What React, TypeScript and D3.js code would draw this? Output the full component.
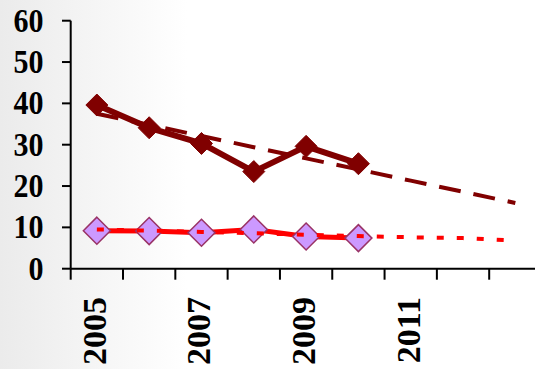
import React from "react";
import * as d3 from "d3";

const years = [2005, 2006, 2007, 2008, 2009, 2010, 2011, 2012, 2013];
const labeledYears = [2005, 2007, 2009, 2011];
const yTicks = [0, 10, 20, 30, 40, 50, 60];

const darkYears = [2005, 2006, 2007, 2008, 2009, 2010];
const darkValues = [39.6, 34.1, 30.3, 23.5, 29.6, 25.4];
const darkTrend = [37.5, 34.8, 32.1, 29.4, 26.7, 24.0, 21.3, 18.6, 15.9];

const lightYears = [2005, 2006, 2007, 2008, 2009, 2010];
const lightValues = [9.2, 9.1, 8.7, 9.5, 7.8, 7.4];
const lightTrend = [9.5, 9.2, 8.9, 8.6, 8.2, 7.9, 7.6, 7.4, 6.8];

const W = 535;
const H = 369;
const FONT = "'Liberation Serif', 'Times New Roman', serif";

export default function App() {
  const x = d3.scaleBand<number>().domain(years).range([70.7, 541.5]).padding(0);
  const y = d3.scaleLinear().domain([0, 60]).range([268.7, 20.7]);
  const cx = (yr: number) => (x(yr) as number) + x.bandwidth() / 2;

  const line = d3
    .line<[number, number]>()
    .x((d) => cx(d[0]))
    .y((d) => y(d[1]));

  const darkPts = darkYears.map((yr, i) => [yr, darkValues[i]] as [number, number]);
  const lightPts = lightYears.map((yr, i) => [yr, lightValues[i]] as [number, number]);
  const darkTrendPts = years.map((yr, i) => [yr, darkTrend[i]] as [number, number]);
  const lightTrendPts = years.map((yr, i) => [yr, lightTrend[i]] as [number, number]);

  const diamond = (px: number, py: number, r: number) =>
    `M${px},${py - r}L${px + r},${py}L${px},${py + r}L${px - r},${py}Z`;

  const tickXs = years.map((yr) => x(yr) as number).concat([(x(2013) as number) + x.bandwidth()]);
  const y0 = y(0);

  return (
    <svg
      width={W}
      height={H}
      style={{ position: "absolute", left: 0, top: 0, display: "block" }}
    >
      <defs>
        <linearGradient id="bg" x1="0" y1="0" x2="1" y2="0">
          <stop offset="0" stopColor="#ebebeb" />
          <stop offset="0.35" stopColor="#ffffff" />
          <stop offset="1" stopColor="#ffffff" />
        </linearGradient>
        <clipPath id="clip">
          <rect x={0} y={0} width={W} height={H} />
        </clipPath>
      </defs>
      <rect x={0} y={0} width={W} height={H} fill="url(#bg)" />

      <g clipPath="url(#clip)">
        {/* y axis */}
        <line x1={70.7} x2={70.7} y1={y(60)} y2={y0} stroke="#000" strokeWidth={2} />
        {yTicks.map((t) => (
          <g key={t}>
            <line x1={62} x2={70.7} y1={y(t)} y2={y(t)} stroke="#000" strokeWidth={2} />
            <text
              transform={`translate(43.5,${y(t) + 3}) scale(1,1.14)`}
              textAnchor="end"
              dominantBaseline="middle"
              fontFamily={FONT}
              fontWeight="bold"
              fontSize={30}
              fill="#000"
            >
              {t}
            </text>
          </g>
        ))}

        {/* x axis */}
        <line x1={70.7} x2={W + 10} y1={y0} y2={y0} stroke="#000" strokeWidth={2} />
        {tickXs.map((tx, i) => (
          <line key={i} x1={tx} x2={tx} y1={y0} y2={y0 + 11} stroke="#000" strokeWidth={2} />
        ))}
        {labeledYears.map((yr) => (
          <text
            key={yr}
            transform={`translate(${cx(yr) + 1},297) rotate(-90)`}
            textAnchor="end"
            dominantBaseline="middle"
            fontFamily={FONT}
            fontWeight="bold"
            fontSize={34}
            fill="#000"
          >
            {yr}
          </text>
        ))}

        {/* series lines */}
        <path d={line(darkPts) as string} fill="none" stroke="#800000" strokeWidth={6} strokeLinejoin="round" />
        <path d={line(lightPts) as string} fill="none" stroke="#ff0000" strokeWidth={5} strokeLinejoin="round" />

        {/* markers */}
        {darkPts.map((p, i) => (
          <path key={"d" + i} d={diamond(cx(p[0]), y(p[1]), 11)} fill="#800000" stroke="#800000" strokeWidth={1} />
        ))}
        {lightPts.map((p, i) => (
          <path key={"l" + i} d={diamond(cx(p[0]), y(p[1]), 13.5)} fill="#cc99ff" stroke="#993366" strokeWidth={1.5} />
        ))}

        {/* trend lines */}
        <path
          d={line(darkTrendPts) as string}
          fill="none"
          stroke="#800000"
          strokeWidth={4}
          strokeDasharray="22,13"
        />
        <path
          d={line(lightTrendPts) as string}
          fill="none"
          stroke="#ff0000"
          strokeWidth={4}
          strokeDasharray="7,13"
        />
      </g>
    </svg>
  );
}
